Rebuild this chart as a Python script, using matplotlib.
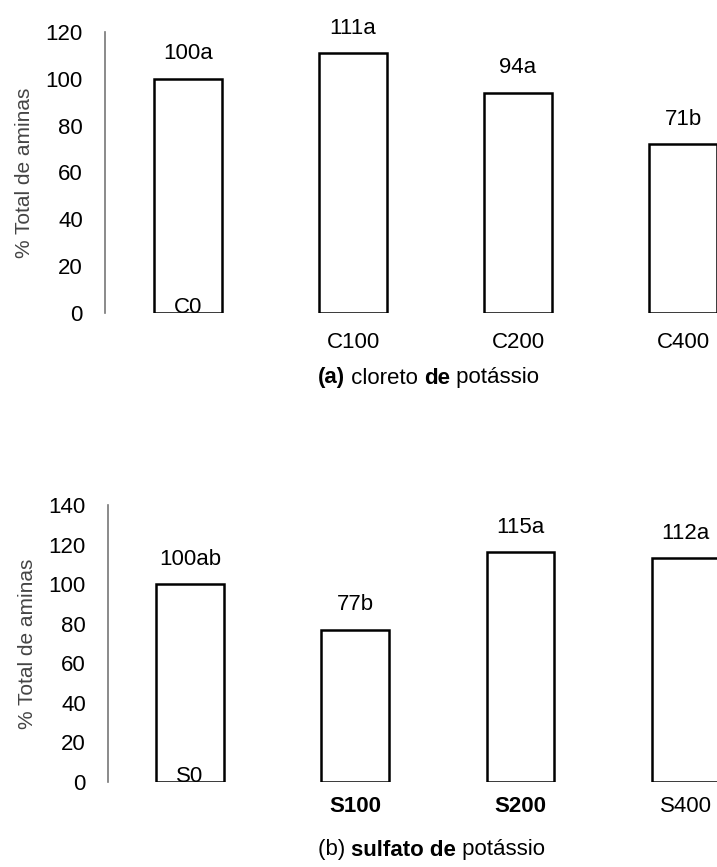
import matplotlib
matplotlib.use("Agg")
import matplotlib.pyplot as plt

plt.rcParams['font.family'] = ['Liberation Sans', 'DejaVu Sans']

# Data
cats_a = ["C0", "C100", "C200", "C400"]
vals_a = [100, 111, 94, 72]
lbl_a = ["100a", "111a", "94a", "71b"]
cats_b = ["S0", "S100", "S200", "S400"]
vals_b = [100, 77, 116, 113]
lbl_b = ["100ab", "77b", "115a", "112a"]
yticks_a = [0, 20, 40, 60, 80, 100, 120]
yticks_b = [0, 20, 40, 60, 80, 100, 120, 140]
ylabel = "% Total de aminas"
cap_a = [("(a)", "bold"), (" cloreto ", "normal"), ("de", "bold"), (" potássio", "normal")]
cap_b = [("(b) ", "normal"), ("sulfato de", "bold"), (" potássio", "normal")]

W, H = 717, 867
FS = 16
fig = plt.figure(figsize=(W / 100, H / 100), dpi=100)

def px_axes(left, right, top, bottom):
    return fig.add_axes([left / W, 1 - bottom / H, (right - left) / W, (bottom - top) / H])

def draw(ax, cats, vals, lbls, yticks, ymax, xlim, xpad, bold_x=()):
    x = list(range(len(cats)))
    ax.bar(x, vals, width=0.41, facecolor="white", edgecolor="black", linewidth=1.8)
    for xi, v, t in zip(x, vals, lbls):
        ax.annotate(t, (xi, v), xytext=(0, 18), textcoords="offset points",
                    ha="center", va="center", fontsize=FS)
    ax.set_xlim(*xlim)
    ax.set_ylim(0, ymax)
    ax.set_yticks(yticks)
    ax.set_yticklabels([str(t) for t in yticks], fontsize=FS)
    ax.set_xticks(x[1:])
    ax.set_xticklabels(cats[1:], fontsize=FS)
    for i, tl in enumerate(ax.get_xticklabels()):
        if cats[i + 1] in bold_x:
            tl.set_fontweight("bold")
    ax.text(0, 0, cats[0], ha="center", va="baseline", fontsize=FS)
    ax.tick_params(axis="y", length=0, pad=16)
    ax.tick_params(axis="x", length=0, pad=xpad)
    for s in ["top", "right", "bottom"]:
        ax.spines[s].set_visible(False)
    ax.spines["left"].set_color("#777777")
    ax.spines["left"].set_linewidth(1.2)
    ax.set_ylabel(ylabel, fontsize=15, color="#444444", labelpad=8)

ax1 = px_axes(105, 717, 32, 313)
draw(ax1, cats_a, vals_a, lbl_a, yticks_a, 120, (-0.503, 3.206), 14)
ax2 = px_axes(108, 717, 505, 782)
draw(ax2, cats_b, vals_b, lbl_b, yticks_b, 140, (-0.497, 3.19), 10, bold_x=("S100", "S200"))

def caption(pieces, x0, yc):
    t = fig.text(x0 / W, 1 - yc / H, pieces[0][0], ha="left", va="center",
                 fontsize=FS, fontweight=pieces[0][1])
    prev = t
    for txt, wt in pieces[1:]:
        prev = ax1.annotate(txt, xy=(1, 0), xycoords=prev, ha="left", va="bottom",
                            fontsize=FS, fontweight=wt, annotation_clip=False)

caption(cap_a, 318, 378)
caption(cap_b, 318, 850)

fig.savefig("out.png", dpi=100, facecolor="white")
